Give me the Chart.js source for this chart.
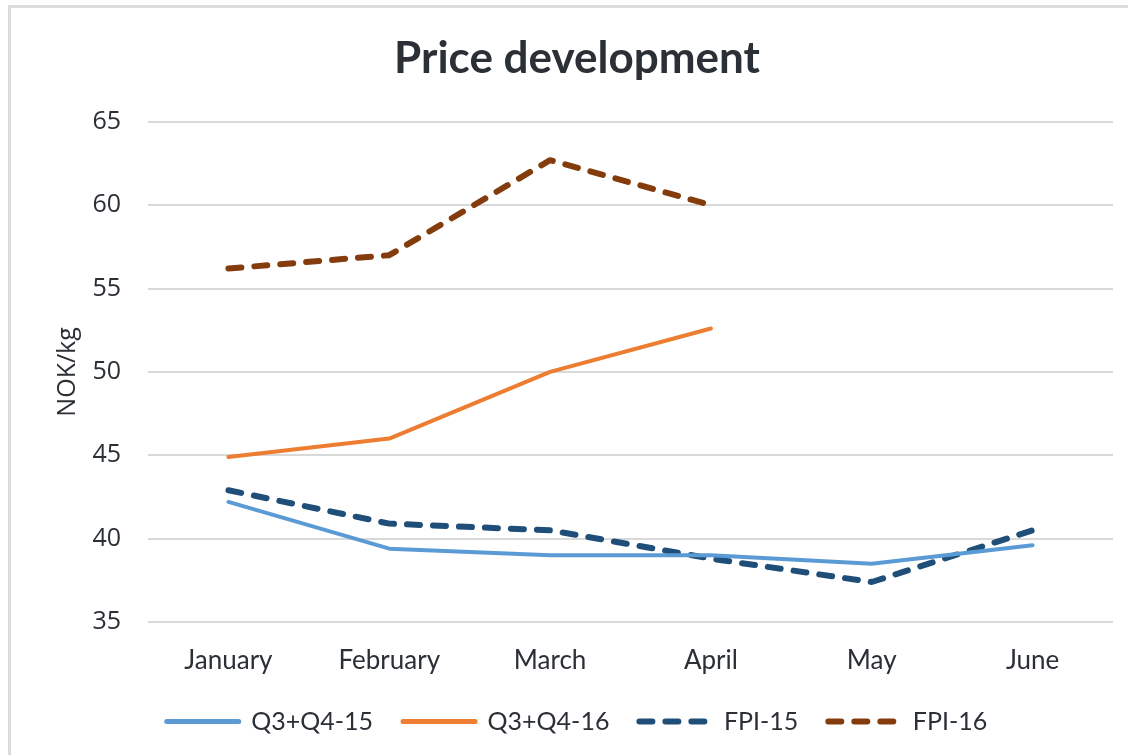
<!DOCTYPE html>
<html>
<head>
<meta charset="utf-8">
<title>Price development</title>
<script src="https://cdn.jsdelivr.net/npm/chart.js@4.4.1/dist/chart.umd.min.js"></script>
<style>
  html, body { margin: 0; padding: 0; background: #fff; overflow: hidden; }
  #wrap { position: relative; width: 1128px; height: 755px; }
  #frame {
    position: absolute; left: 8px; top: 5px; width: 1200px; height: 800px;
    border-left: 3px solid #dcdcdc; border-top: 3px solid #dcdcdc;
    pointer-events: none;
  }
</style>
</head>
<body>
<div id="wrap">
  <canvas id="priceChart"></canvas>
  <div id="frame"></div>
</div>
<script>
// data
const months = ['January', 'February', 'March', 'April', 'May', 'June'];
const q3q4_15 = [42.2, 39.4, 39.0, 39.0, 38.5, 39.6];
const q3q4_16 = [44.9, 46.0, 50.0, 52.6, null, null];
const fpi_15 = [42.9, 40.9, 40.5, 38.8, 37.4, 40.5];
const fpi_16 = [56.2, 57.0, 62.7, 60.0, null, null];
const yTicks = [35, 40, 45, 50, 55, 60, 65];

const textColor = '#2b2f36';

const ctx = document.getElementById('priceChart').getContext('2d');
new Chart(ctx, {
    type: 'line',
    data: {
        labels: months,
        datasets: [
            { label: 'Q3+Q4-15', data: q3q4_15, borderColor: '#5B9BD5', backgroundColor: '#5B9BD5', borderWidth: 4 },
            { label: 'Q3+Q4-16', data: q3q4_16, borderColor: '#ED7D31', backgroundColor: '#ED7D31', borderWidth: 4 },
            { label: 'FPI-15', data: fpi_15, borderColor: '#1F4E79', backgroundColor: '#1F4E79', borderWidth: 6, borderDash: [13, 13] },
            { label: 'FPI-16', data: fpi_16, borderColor: '#843C0C', backgroundColor: '#843C0C', borderWidth: 6, borderDash: [13, 13] }
        ]
    },
    options: {
        responsive: true,
        maintainAspectRatio: false,
        animation: false,
        spanGaps: false,
        layout: { padding: { left: 41, right: 15, top: 8, bottom: 11 } },
        elements: {
            point: { radius: 0, hoverRadius: 0 },
            line: { tension: 0, borderCapStyle: 'round', borderJoinStyle: 'round' }
        },
        plugins: {
            title: {
                display: true,
                text: 'Price development',
                color: textColor,
                font: { family: 'Lato', size: 44, weight: 'bold' },
                padding: { top: 24, bottom: 37 }
            },
            legend: {
                position: 'bottom',
                labels: {
                    usePointStyle: true,
                    pointStyle: 'line',
                    pointStyleWidth: 72,
                    boxHeight: 25,
                    color: textColor,
                    font: { family: 'Lato', size: 25 },
                    padding: 30,
                    generateLabels: (chart) => {
                        const items = Chart.defaults.plugins.legend.labels.generateLabels(chart);
                        items.forEach(item => {
                            const ds = chart.data.datasets[item.datasetIndex];
                            item.lineWidth = ds.borderDash ? 6 : 5;
                            item.lineDash = ds.borderDash || [];
                            item.lineCap = 'round';
                            item.strokeStyle = ds.borderColor;
                        });
                        return items;
                    }
                }
            },
            tooltip: { enabled: false }
        },
        scales: {
            x: {
                offset: true,
                grid: { display: false, drawTicks: false },
                border: { display: false },
                afterFit: (scale) => { scale.height = 57; },
                ticks: { color: textColor, font: { family: 'Lato', size: 26 }, padding: 23 }
            },
            y: {
                min: 35,
                max: 65,
                afterBuildTicks: (scale) => { scale.ticks = yTicks.map(v => ({ value: v })); },
                afterFit: (scale) => { scale.width = 107; },
                grid: { color: '#d9d9d9', lineWidth: 2, drawTicks: false },
                border: { display: false },
                ticks: { color: textColor, font: { family: 'Open Sans', size: 25 }, padding: 27 },
                title: {
                    display: true,
                    text: 'NOK/kg',
                    color: textColor,
                    font: { family: 'Open Sans', size: 25 },
                    padding: { top: 12, bottom: 0 }
                }
            }
        }
    }
});
</script>
</body>
</html>
